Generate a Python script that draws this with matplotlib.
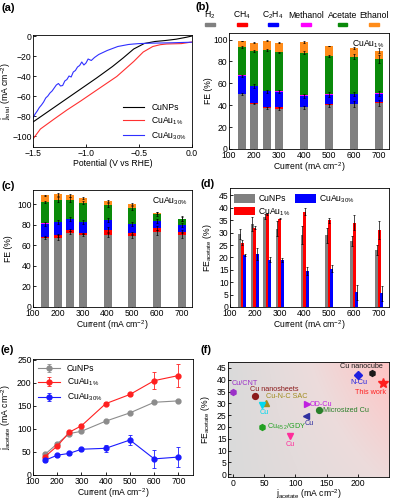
import numpy as np
import matplotlib.pyplot as plt
from matplotlib.colors import LinearSegmentedColormap
from matplotlib.patches import Rectangle

plt.rcParams['font.family'] = ['Liberation Sans', 'DejaVu Sans']
plt.rcParams['mathtext.default'] = 'regular'
plt.rcParams['font.size'] = 6.2
plt.rcParams['axes.linewidth'] = 0.6
plt.rcParams['xtick.direction'] = 'in'
plt.rcParams['ytick.direction'] = 'in'
plt.rcParams['xtick.major.size'] = 2
plt.rcParams['ytick.major.size'] = 2
plt.rcParams['xtick.major.width'] = 0.6
plt.rcParams['ytick.major.width'] = 0.6
plt.rcParams['xtick.major.pad'] = 1.2
plt.rcParams['ytick.major.pad'] = 1.0
plt.rcParams['axes.labelpad'] = 0.6

# ---- (a) LSV curves ----
black_v = [-1.5, -1.35, -1.2, -1.05, -0.9, -0.75, -0.65, -0.55, -0.45, -0.35, -0.25, -0.15, -0.05, 0.0]
black_j = [-86, -75, -64, -53, -42, -30.5, -22, -13, -7.5, -5.5, -4.5, -3.2, -1.2, 0]
red_v = [-1.5, -1.43, -1.3, -1.18, -1.05, -0.87, -0.71, -0.55, -0.46, -0.37, -0.3, -0.24, -0.1, 0.0]
red_j = [-103, -93, -83, -74, -65, -52, -40.5, -25.5, -16, -10.5, -8.7, -8, -7.6, -6]
blue_v = [-1.5, -1.48, -1.46, -1.44, -1.42, -1.40, -1.38, -1.36, -1.34, -1.32, -1.30, -1.28,
          -1.26, -1.24, -1.22, -1.20, -1.18, -1.16, -1.14, -1.12, -1.10, -1.08, -1.06, -1.04,
          -1.02, -1.00, -0.98, -0.95, -0.92, -0.88, -0.84, -0.80, -0.75, -0.70, -0.65, -0.60,
          -0.55, -0.50, -0.45, -0.40, -0.30, -0.20, -0.10, 0.0]
blue_j = [-82, -78, -75, -71.5, -69, -66, -62, -60, -57, -55, -52, -49, -47.5, -50, -49.5, -45,
          -43.5, -40, -41, -36, -34.5, -31, -29.5, -26, -29, -27, -23, -24.5, -21.5, -18.5,
          -16.5, -14.5, -12.5, -10.5, -9.5, -8.5, -8, -7.6, -7.4, -7.2, -7.0, -6.8, -6.5, -6.2]

# ---- (b), (c) product distribution ----
currents = [150, 200, 250, 300, 400, 500, 600, 700]
comp_names = ['H$_2$', 'CH$_4$', 'C$_2$H$_4$', 'Methanol', 'Acetate', 'Ethanol']
comp_colors = ['#808080', '#ff0000', '#0000ff', '#ff00ff', '#0a8a0a', '#ff8c1a']

b_h2 = [50, 41.5, 37.8, 37, 38, 40, 41, 42]
b_ch4 = [0.4, 0.5, 0.8, 1.5, 0.8, 1.0, 0.5, 1.2]
b_c2h4 = [16.5, 15.5, 14, 14, 9.7, 8.8, 8.5, 7.5]
b_meoh = [0.3, 0.3, 0.2, 0.2, 1.0, 0.3, 0.3, 0.3]
b_acetate = [26, 32, 37.5, 35.5, 38.5, 35, 34, 31]
b_ethanol = [5.5, 7.5, 8.5, 9, 9.5, 9, 8, 8]
b_h2_err = [0.8, 0.8, 1, 1.5, 1.2, 1.5, 2.5, 3]
b_c2h4_err = [1, 1.5, 1, 1, 1.5, 2, 2, 2]
b_acetate_err = [1, 0.8, 0.8, 0.8, 1.5, 1, 2.5, 3.5]
b_ethanol_err = [0.3, 0.5, 0.5, 0.3, 1, 0.3, 1, 2]

c_h2 = [67, 67.5, 72.5, 70, 70.5, 69, 73, 70.5]
c_ch4 = [1.3, 2.5, 2.5, 2, 5, 3, 4, 3]
c_c2h4 = [13, 13, 10.5, 10.5, 9.3, 9, 7, 6.5]
c_meoh = [0.2, 0.2, 0.2, 0.2, 0.2, 0.2, 0.2, 0.2]
c_acetate = [21, 21.5, 19, 19, 14.5, 15.5, 6, 5.5]
c_ethanol = [6.5, 5, 4, 4.5, 3.5, 3.5, 1.5, 0.5]
c_h2_err = [1, 2.5, 1.5, 1, 2, 1.5, 2.5, 3]
c_ch4_err = [0.5, 1.5, 1, 0.5, 2, 1, 1.5, 1.5]
c_c2h4_err = [2, 2, 2, 2, 2, 2, 2, 2]
c_acetate_err = [1, 2, 2, 1.5, 2, 2, 2, 2]
c_ethanol_err = [0.5, 1.5, 1.5, 0.5, 1, 1, 1, 2]

# ---- (d) FE acetate ----
d_cunps = [29.5, 33.5, 36.5, 31.5, 29, 29, 26.5, 23]
d_cunps_err = [2, 3, 1, 3, 3.5, 3, 2, 2]
d_cuau1 = [26, 32, 37.5, 35.5, 38.5, 35, 34, 31]
d_cuau1_err = [1, 0.5, 0.5, 0.2, 1.5, 1, 3, 3.5]
d_cuau30 = [21, 21.5, 19, 19, 14.5, 15.5, 6, 5.5]
d_cuau30_err = [0.3, 2.5, 1, 0.8, 1.5, 1.5, 3, 3]

# ---- (e) partial current density ----
e_cunps = [45, 68, 90, 95, 117, 135, 158, 161]
e_cunps_err = [3, 3, 2, 2, 2, 2, 2, 2]
e_cuau1 = [40, 63, 93, 107, 155, 175, 205, 216]
e_cuau1_err = [3, 3, 3, 3, 4, 3, 18, 25]
e_cuau30 = [32, 43, 47, 56, 58, 76, 35, 39]
e_cuau30_err = [3, 3, 3, 3, 8, 10, 19, 21]

# ---- (f) literature comparison ----
f_names = ['Cu/CNT', 'Cu nanosheets', 'Cu-N-C SAC', 'Cu', 'Cu$_{45.2}$/GDY', 'Cu', 'OD-Cu', 'Cu',
           'Microsized Cu', 'N-Cu', 'Cu nanocube', 'This work']
f_j = [0.5, 36, 53, 47, 47, 91, 118, 117, 138, 201, 223, 241]
f_fe = [35, 33, 30, 29.5, 20, 16, 29.7, 24.5, 27, 42, 43, 38.5]
f_colors = ['#9b30c8', '#8b1a1a', '#a08c1e', '#00d8ee', '#22a022', '#ff2d9b', '#c020e0', '#3030a0',
            '#2a7f2a', '#2020e0', '#1a1a1a', '#ff2020']
f_markers = ['h', 'o', '^', 'v', 'h', 'v', '>', '<', 'o', 'D', 'h', '*']

fig = plt.figure(figsize=(3.93, 5.0), dpi=100)
W, H = 393, 500


def box(l, t, r, b):
    return [l / W, 1 - b / H, (r - l) / W, (b - t) / H]


ax_a = fig.add_axes(box(33, 35, 192, 147))
ax_b = fig.add_axes(box(229, 33, 389, 149))
ax_c = fig.add_axes(box(33, 190, 192, 307))
ax_d = fig.add_axes(box(230, 188, 389, 307))
ax_e = fig.add_axes(box(33, 359, 193, 475))
ax_f = fig.add_axes(box(228, 362, 389, 477))

# (a)
ax_a.plot(black_v, black_j, color='black', lw=0.8, label='CuNPs')
ax_a.plot(red_v, red_j, color='#ff3030', lw=0.8, label='CuAu$_{1\\%}$')
ax_a.plot(blue_v, blue_j, color='#3030ff', lw=0.8, label='CuAu$_{30\\%}$')
ax_a.set_xlim(-1.5, 0.0)
ax_a.set_ylim(-111, 1)
ax_a.set_xticks([-1.5, -1.0, -0.5, 0.0])
ax_a.set_yticks([0, -20, -40, -60, -80, -100])
ax_a.set_xlabel('Potential (V vs RHE)')
ax_a.set_ylabel('j$_{total}$ (mA cm$^{-2}$)')
ax_a.legend(loc='lower right', frameon=False, handlelength=2.5, labelspacing=0.3,
            borderaxespad=0.2, fontsize=6.2)


# (b) and (c) stacked bars
def stacked(ax, parts, errs):
    bottom = np.zeros(len(currents))
    for vals, col, err in zip(parts, comp_colors, errs):
        ax.bar(currents, vals, width=32, bottom=bottom, color=col, zorder=2)
        bottom = bottom + np.array(vals)
        if err is not None:
            ax.errorbar(currents, bottom, yerr=err, fmt='none', ecolor='black',
                        elinewidth=0.5, capsize=1, capthick=0.5, zorder=3)
    ax.set_xlim(100, 740)
    ax.set_xticks(range(100, 701, 100))
    ax.set_xlabel('Current (mA cm$^{-2}$)')
    ax.set_ylabel('FE (%)')


stacked(ax_b, [b_h2, b_ch4, b_c2h4, b_meoh, b_acetate, b_ethanol],
        [b_h2_err, None, b_c2h4_err, None, b_acetate_err, b_ethanol_err])
ax_b.set_ylim(0, 106)
ax_b.set_yticks(range(0, 101, 20))
ax_b.text(0.97, 0.96, 'CuAu$_{1\\%}$', transform=ax_b.transAxes, ha='right', va='top')

stacked(ax_c, [c_h2, c_ch4, c_c2h4, c_meoh, c_acetate, c_ethanol],
        [c_h2_err, c_ch4_err, c_c2h4_err, None, c_acetate_err, c_ethanol_err])
ax_c.set_ylim(0, 114)
ax_c.set_yticks(range(0, 101, 20))
ax_c.text(0.97, 0.96, 'CuAu$_{30\\%}$', transform=ax_c.transAxes, ha='right', va='top')

# legend of (b): label on top, colour patch under it
legend_x = [-0.12, 0.08, 0.275, 0.48, 0.71, 0.905]
for xc, name, col in zip(legend_x, comp_names, comp_colors):
    ax_b.text(xc, 1.155, name, transform=ax_b.transAxes, ha='center', va='center', fontsize=6.2)
    ax_b.add_patch(Rectangle((xc - 0.03, 1.06), 0.06, 0.028, transform=ax_b.transAxes,
                             color=col, clip_on=False))

# (d)
x = np.array(currents)
ax_d.bar(x - 10, d_cunps, width=12, color='#808080', label='CuNPs', zorder=2)
ax_d.bar(x, d_cuau1, width=12, color='#ff0000', label='CuAu$_{1\\%}$', zorder=2)
ax_d.bar(x + 10, d_cuau30, width=12, color='#0000ff', label='CuAu$_{30\\%}$', zorder=2)
for dx, vals, err in [(-10, d_cunps, d_cunps_err), (0, d_cuau1, d_cuau1_err), (10, d_cuau30, d_cuau30_err)]:
    ax_d.errorbar(x + dx, vals, yerr=err, fmt='none', ecolor='black', elinewidth=0.5,
                  capsize=1, capthick=0.5, zorder=3)
ax_d.set_xlim(100, 740)
ax_d.set_xticks(range(100, 701, 100))
ax_d.set_ylim(0, 48)
ax_d.set_yticks(range(0, 46, 5))
ax_d.set_xlabel('Current (mA cm$^{-2}$)')
ax_d.set_ylabel('FE$_{acetate}$ (%)')
ax_d.legend(loc='upper left', ncol=2, frameon=False, handlelength=2.4, handleheight=1.1,
            columnspacing=0.5, labelspacing=0.2, handletextpad=0.4, borderaxespad=0.1,
            fontsize=6.2)

# (e)
ax_e.errorbar(currents, e_cunps, yerr=e_cunps_err, color='#8c8c8c', marker='o', ms=3.5, lw=0.8,
              elinewidth=0.6, capsize=1.5, capthick=0.6, label='CuNPs')
ax_e.errorbar(currents, e_cuau1, yerr=e_cuau1_err, color='#ff2020', marker='o', ms=3.5, lw=0.8,
              elinewidth=0.6, capsize=1.5, capthick=0.6, label='CuAu$_{1\\%}$')
ax_e.errorbar(currents, e_cuau30, yerr=e_cuau30_err, color='#1a1aff', marker='o', ms=3.5, lw=0.8,
              elinewidth=0.6, capsize=1.5, capthick=0.6, label='CuAu$_{30\\%}$')
ax_e.set_xlim(100, 760)
ax_e.set_xticks(range(100, 701, 100))
ax_e.set_ylim(0, 252)
ax_e.set_yticks(range(0, 251, 50))
ax_e.set_xlabel('Current (mA cm$^{-2}$)')
ax_e.set_ylabel('j$_{acetate}$ (mA cm$^{-2}$)')
ax_e.legend(loc='upper left', frameon=False, handlelength=2.5, labelspacing=0.3,
            borderaxespad=0.2, fontsize=6.2)

# (f) gradient background
g = np.linspace(0, 1, 200)
gx, gy = np.meshgrid(g, g)
bg_cmap = LinearSegmentedColormap.from_list('bg', ['#dadada', '#ecdcdc', '#ffc4c4'])
ax_f.imshow(gx * (0.55 + 0.45 * gy), extent=[0, 1, 0, 1], transform=ax_f.transAxes,
            origin='lower', cmap=bg_cmap, aspect='auto', zorder=0)

label_offsets = [(-1, 6, 'left'), (-4, 5, 'left'), (0, 5, 'left'), (1.5, -6, 'center'),
                 (3.5, 0, 'left'), (0, -6, 'center'), (2, 0, 'left'), (2, -5.5, 'center'),
                 (3, 0, 'left'), (0, -5.5, 'center'), (-8, 4.5, 'center'), (-9, -7, 'center')]
for name, xj, yf, col, mk, (ox, oy, ha) in zip(f_names, f_j, f_fe, f_colors, f_markers, label_offsets):
    ax_f.plot(xj, yf, marker=mk, color=col, ms=7.5 if mk == '*' else 4.2, ls='none', zorder=3)
    ax_f.annotate(name, (xj, yf), xytext=(ox, oy), textcoords='offset points', color=col,
                  ha=ha, va='center', fontsize=5.2, zorder=4)
ax_f.set_xlim(-8, 250)
ax_f.set_ylim(-1.2, 47.5)
ax_f.set_xticks([0, 50, 100, 150, 200])
ax_f.set_yticks(range(0, 46, 5))
ax_f.set_xlabel('j$_{acetate}$ (mA cm$^{-2}$)', labelpad=0)
ax_f.set_ylabel('FE$_{acetate}$ (%)')

# y labels placed like the reference
for ax in [ax_a, ax_c, ax_e]:
    ax.yaxis.set_label_coords(-0.125, 0.5)
for ax in [ax_b, ax_d, ax_f]:
    ax.yaxis.set_label_coords(-0.10, 0.5)

# panel letters
for lab, px, py in [('(a)', 8, 8), ('(b)', 202, 7), ('(c)', 8, 186),
                    ('(d)', 208, 184), ('(e)', 7, 350), ('(f)', 206, 350)]:
    fig.text(px / W, 1 - py / H, lab, fontweight='bold', fontsize=8, ha='center', va='center')

fig.savefig('out.png', dpi=100)
